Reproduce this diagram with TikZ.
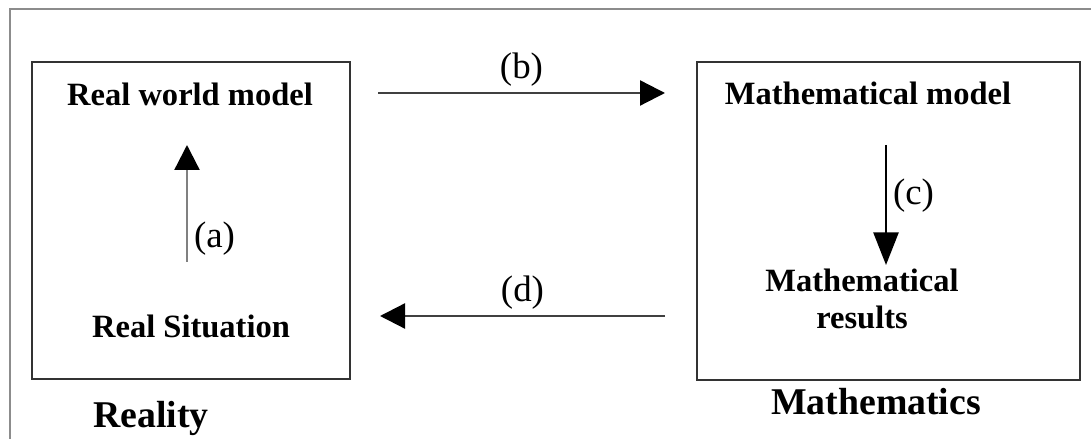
\documentclass[tikz,border=0pt]{standalone}
\usepackage{fontspec}
\setmainfont{Liberation Serif}
\usetikzlibrary{arrows.meta}
\tikzstyle{frame} = [draw=black!45, line width=1.4pt]
\tikzstyle{box} = [draw=black!80, line width=1.4pt, inner sep=0pt]
\tikzstyle{title} = [font=\fontsize{18.5}{21}\selectfont\bfseries, inner sep=0pt, anchor=base]
\tikzstyle{area} = [font=\fontsize{21.5}{25}\selectfont\bfseries, inner sep=0pt, anchor=base]
\tikzstyle{lbl} = [font=\fontsize{21}{25}\selectfont]
\tikzstyle{link} = [->, line width=1.3pt, draw=black!75]

\begin{document}
\begin{tikzpicture}[>={Triangle[length=0.5cm,width=0.5cm,color=black]}]
	\useasboundingbox (0,0) rectangle (21.82,8.78);
	\draw[frame] (0.2,0) -- (0.2,8.6) -- (21.82,8.6);
	% the two boxes
	\node[box, minimum width=6.36cm, minimum height=6.34cm] (realbox) at (3.82,4.37) {};
	\node[box, minimum width=7.66cm, minimum height=6.36cm] (mathbox) at (17.77,4.36) {};
	% texts
	\node[title] (rwm) at (3.8,6.66) {Real world model};
	\node[title] (rs) at (3.82,2.02) {Real Situation};
	\node[area] (reality) at (3.02,0.22) {Reality};
	\node[title] (mm) at (17.36,6.68) {Mathematical model};
	\node[title, align=center, anchor=center] (mr) at (17.24,2.8) {Mathematical\\results};
	\node[area] (maths) at (17.52,0.48) {Mathematics};
	% arrow ends
	\coordinate (a1) at (3.74,3.54);
	\coordinate (a2) at (3.74,5.88);
	\coordinate (b1) at (7.56,6.92);
	\coordinate (b2) at (13.3,6.92);
	\coordinate (c1) at (17.72,5.88);
	\coordinate (c2) at (17.72,3.48);
	\coordinate (d1) at (13.3,2.46);
	\coordinate (d2) at (7.6,2.46);
	\draw[link, draw=black!50] (a1) -- (a2) node [lbl,pos=0.2,right] {(a)};
	\draw[link] (b1) -- (b2) node [lbl,midway,above] {(b)};
	\draw[link, draw=black, >={Triangle[length=0.65cm,width=0.5cm]}] (c1) -- (c2) node [lbl,pos=0.42,right] {(c)};
	\draw[link] (d1) -- (d2) node [lbl,midway,above] {(d)};
\end{tikzpicture}
\end{document}
